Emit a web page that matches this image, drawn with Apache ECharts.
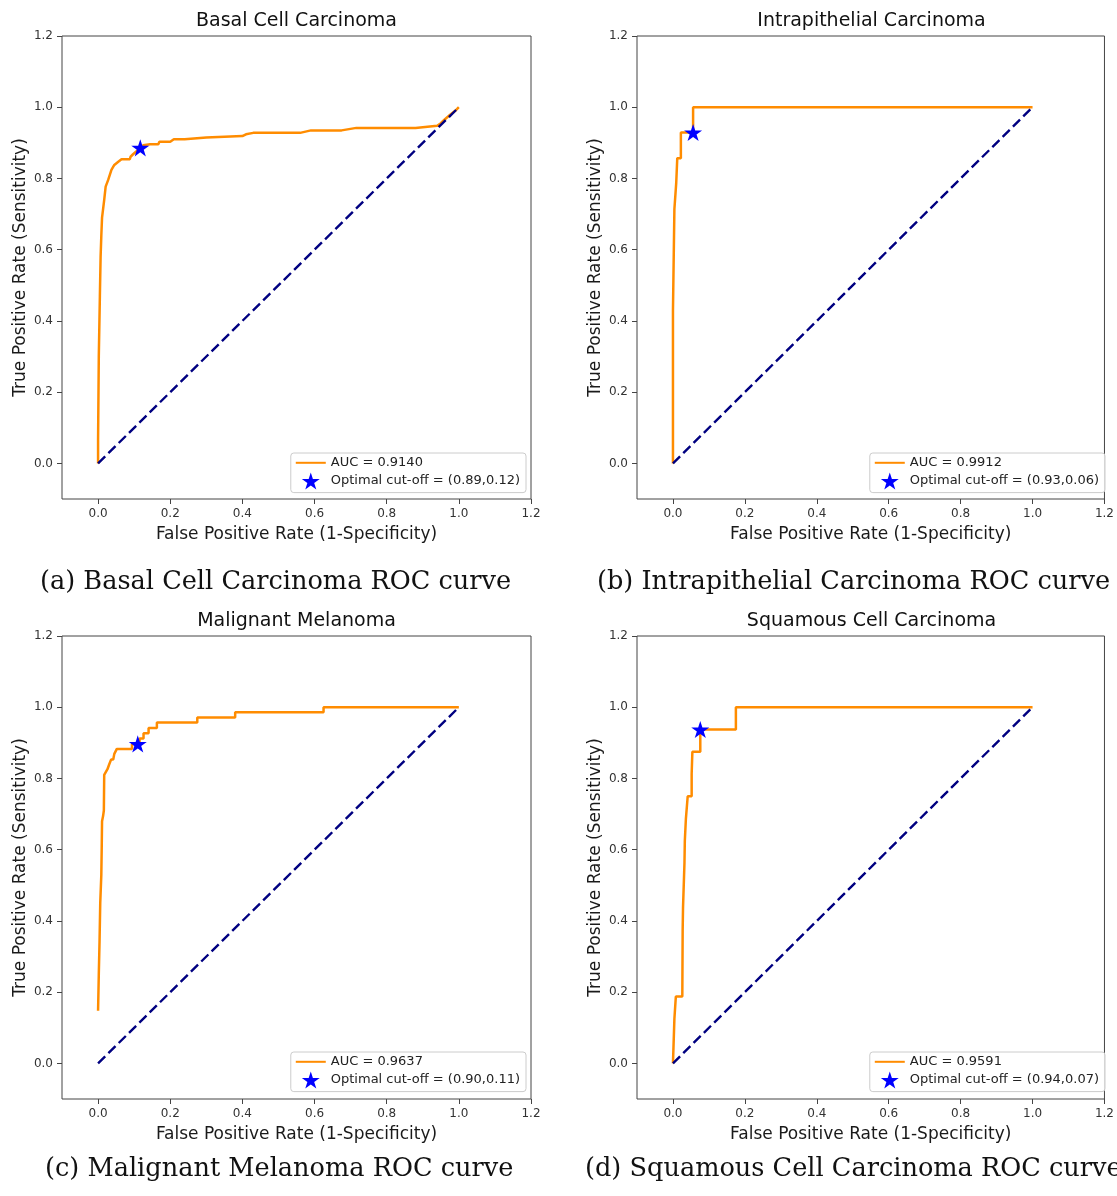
<!DOCTYPE html>
<html><head><meta charset="utf-8">
<script src="https://cdn.jsdelivr.net/npm/echarts@6/dist/echarts.min.js"></script>
<style>html,body{margin:0;padding:0;background:#fff}#c{width:1117px;height:1196px}</style>
</head><body><div id="c"></div>
<script>
// ---------- DATA ----------
const panelTitles = ['Basal Cell Carcinoma', 'Intrapithelial Carcinoma', 'Malignant Melanoma', 'Squamous Cell Carcinoma'];
const captions = ['(a) Basal Cell Carcinoma ROC curve', '(b) Intrapithelial Carcinoma ROC curve', '(c) Malignant Melanoma ROC curve', '(d) Squamous Cell Carcinoma ROC curve'];
const aucLabels = ['AUC = 0.9140', 'AUC = 0.9912', 'AUC = 0.9637', 'AUC = 0.9591'];
const cutoffLabels = ['Optimal cut-off = (0.89,0.12)', 'Optimal cut-off = (0.93,0.06)', 'Optimal cut-off = (0.90,0.11)', 'Optimal cut-off = (0.94,0.07)'];
const tickValues = [0.0, 0.2, 0.4, 0.6, 0.8, 1.0, 1.2];
const xAxisTitle = 'False Positive Rate (1-Specificity)';
const yAxisTitle = 'True Positive Rate (Sensitivity)';

const fprBasal = [0, 0, 0.002, 0.005, 0.007, 0.009, 0.011, 0.017, 0.021, 0.028, 0.037, 0.045, 0.056, 0.065, 0.088, 0.090, 0.097, 0.105, 0.116, 0.125, 0.144, 0.167, 0.170, 0.200, 0.210, 0.240, 0.245, 0.300, 0.305, 0.400, 0.410, 0.430, 0.560, 0.590, 0.675, 0.716, 0.880, 0.885, 0.940, 0.950, 0.960, 0.975, 0.990, 1.0];
const tprBasal = [0, 0.065, 0.30, 0.47, 0.58, 0.64, 0.69, 0.74, 0.777, 0.796, 0.824, 0.838, 0.847, 0.854, 0.854, 0.861, 0.868, 0.875, 0.885, 0.893, 0.896, 0.896, 0.903, 0.903, 0.910, 0.910, 0.915, 0.915, 0.919, 0.919, 0.924, 0.928, 0.928, 0.935, 0.935, 0.942, 0.942, 0.947, 0.948, 0.955, 0.965, 0.978, 0.990, 1.0];

const fprIntra = [0, 0, 0.003, 0.004, 0.009, 0.009, 0.012, 0.012, 0.022, 0.022, 0.056, 0.056, 1.0];
const tprIntra = [0, 0.429, 0.429, 0.714, 0.714, 0.786, 0.786, 0.857, 0.857, 0.929, 0.929, 1.0, 1.0];

const fprMel = [0, 0.002, 0.004, 0.006, 0.009, 0.010, 0.011, 0.014, 0.016, 0.017, 0.022, 0.026, 0.031, 0.036, 0.042, 0.045, 0.050, 0.052, 0.094, 0.094, 0.115, 0.115, 0.126, 0.126, 0.140, 0.140, 0.163, 0.163, 0.275, 0.275, 0.380, 0.380, 0.625, 0.625, 1.0];
const tprMel = [0.148, 0.25, 0.34, 0.45, 0.53, 0.60, 0.68, 0.695, 0.71, 0.81, 0.81, 0.826, 0.84, 0.853, 0.853, 0.869, 0.869, 0.883, 0.883, 0.897, 0.897, 0.912, 0.912, 0.927, 0.927, 0.942, 0.942, 0.957, 0.957, 0.971, 0.971, 0.986, 0.986, 1.0, 1.0];

const fprSq = [0, 0.002, 0.004, 0.008, 0.008, 0.026, 0.027, 0.028, 0.031, 0.032, 0.033, 0.036, 0.036, 0.040, 0.041, 0.052, 0.052, 0.054, 0.076, 0.076, 0.175, 0.175, 1.0];
const tprSq = [0, 0.0625, 0.125, 0.125, 0.1875, 0.1875, 0.375, 0.4375, 0.4375, 0.5625, 0.625, 0.625, 0.6875, 0.6875, 0.75, 0.75, 0.8125, 0.875, 0.875, 0.9375, 0.9375, 1.0, 1.0];

const optimalFpr = [0.117, 0.056, 0.110, 0.076];
const optimalTpr = [0.886, 0.929, 0.897, 0.9375];

const chanceFpr = [0, 1];
const chanceTpr = [0, 1];

// ---------- LAYOUT / STYLE ----------
const curves = [[fprBasal, tprBasal], [fprIntra, tprIntra], [fprMel, tprMel], [fprSq, tprSq]];
const layout = [
  {left: 62, top: 36, legendRight: 591, legendTop: 453, capX: 40, capY: 582},
  {left: 637, top: 36, legendRight: 12, legendTop: 453, capX: 597, capY: 582},
  {left: 62, top: 636, legendRight: 591, legendTop: 1052, capX: 45, capY: 1169},
  {left: 637, top: 636, legendRight: 12, legendTop: 1052, capX: 585, capY: 1169}
];
const W = 469, H = 463;
const sans = 'DejaVu Sans';
const starPath = 'path://M100,0 L122.45,69.1 L195.11,69.1 L136.33,111.8 L158.78,180.9 L100,138.2 L41.22,180.9 L63.67,111.8 L4.89,69.1 L77.55,69.1 Z';

const grids = [], xAxes = [], yAxes = [], series = [], legends = [], graphics = [];
const pair = (xs, ys) => xs.map((x, k) => [x, ys[k]]);

for (let i = 0; i < 4; i++) {
  const L = layout[i];
  grids.push({left: L.left, top: L.top, width: W, height: H, show: true, borderColor: '#444', borderWidth: 1, backgroundColor: 'transparent'});
  xAxes.push({
    type: 'value', gridIndex: i, min: -0.1, max: 1.2,
    name: xAxisTitle, nameLocation: 'middle', nameGap: 27,
    nameTextStyle: {fontFamily: sans, fontSize: 17, color: '#1a1a1a'},
    axisLine: {show: false, onZero: false},
    axisTick: {show: true, length: 5, inside: false, customValues: tickValues, lineStyle: {color: '#444'}},
    axisLabel: {customValues: tickValues, formatter: v => v.toFixed(1), margin: 9, fontFamily: sans, fontSize: 12, color: '#333'},
    splitLine: {show: false}
  });
  yAxes.push({
    type: 'value', gridIndex: i, min: -0.1, max: 1.2,
    name: yAxisTitle, nameLocation: 'middle', nameGap: 33, nameRotate: 90,
    nameTextStyle: {fontFamily: sans, fontSize: 17, color: '#1a1a1a'},
    axisLine: {show: false, onZero: false},
    axisTick: {show: true, length: 5, inside: false, customValues: tickValues, lineStyle: {color: '#444'}},
    axisLabel: {customValues: tickValues, formatter: v => v.toFixed(1), margin: 9, fontFamily: sans, fontSize: 12, color: '#333'},
    splitLine: {show: false}
  });
  series.push({
    type: 'line', name: aucLabels[i], xAxisIndex: i, yAxisIndex: i,
    data: pair(curves[i][0], curves[i][1]),
    showSymbol: false, symbol: 'none',
    lineStyle: {color: '#FF8C00', width: 2.5}, itemStyle: {color: '#FF8C00'},
    emphasis: {disabled: true}, silent: true, z: 2
  });
  series.push({
    type: 'line', name: 'chance-' + i, xAxisIndex: i, yAxisIndex: i,
    data: pair(chanceFpr, chanceTpr),
    showSymbol: false, symbol: 'none',
    lineStyle: {color: '#000080', width: 2.4, type: [10, 4.5]},
    emphasis: {disabled: true}, silent: true, z: 3
  });
  series.push({
    type: 'scatter', name: cutoffLabels[i], xAxisIndex: i, yAxisIndex: i,
    data: [[optimalFpr[i], optimalTpr[i]]],
    symbol: starPath, symbolSize: 18, symbolKeepAspect: true,
    itemStyle: {color: '#0000FF', opacity: 1}, emphasis: {disabled: true}, silent: true, z: 5
  });
  legends.push({
    orient: 'vertical', right: L.legendRight, top: L.legendTop,
    data: [
      {name: aucLabels[i], itemStyle: {color: 'rgba(0,0,0,0)', borderWidth: 0, opacity: 0}},
      {name: cutoffLabels[i], itemStyle: {opacity: 1}}
    ],
    itemWidth: 30, itemHeight: 17, itemGap: 3, padding: [3, 6, 3, 4],
    backgroundColor: 'rgba(255,255,255,0.8)', borderColor: '#cccccc', borderWidth: 1, borderRadius: 3,
    textStyle: {fontFamily: sans, fontSize: 13, color: '#222'},
    selectedMode: false, symbolKeepAspect: true
  });
  graphics.push({
    type: 'text', x: L.left + W / 2, y: L.top - 15,
    style: {text: panelTitles[i], fill: '#111', font: '19px "DejaVu Sans"', align: 'center', verticalAlign: 'middle', textAlign: 'center', textVerticalAlign: 'middle'}
  });
  graphics.push({
    type: 'text', x: L.capX, y: L.capY,
    style: {text: captions[i], fill: '#111', font: '25.6px "DejaVu Serif"', align: 'left', verticalAlign: 'middle', textAlign: 'left', textVerticalAlign: 'middle'}
  });
}

const chart = echarts.init(document.getElementById('c'), null, {renderer: 'canvas'});
chart.setOption({
  backgroundColor: '#ffffff',
  animation: false,
  grid: grids, xAxis: xAxes, yAxis: yAxes,
  legend: legends, series: series,
  graphic: graphics
});
</script>
</body></html>
